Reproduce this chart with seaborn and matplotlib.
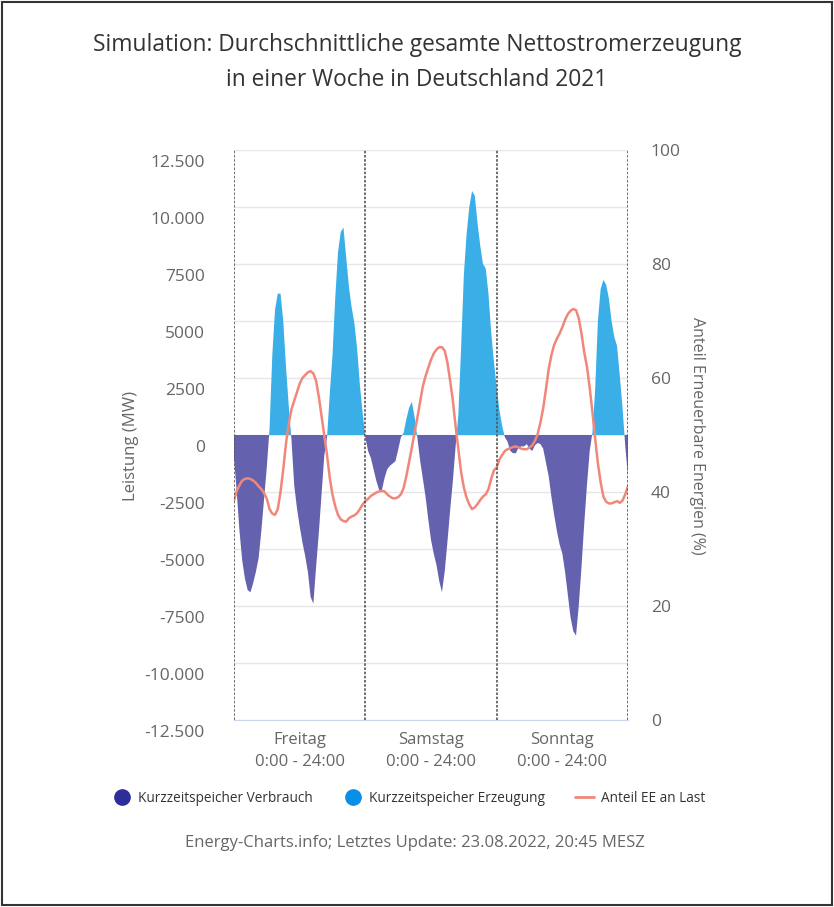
import numpy as np
import pandas as pd
import matplotlib.pyplot as plt
import matplotlib.transforms as mtransforms
from matplotlib.lines import Line2D
from matplotlib.patches import Rectangle
import seaborn as sns

# Kurzzeitspeicher (MW), half-hour steps, Freitag 0:00 .. Sonntag 24:00
speicher_fr = [-1000, -2500, -4200, -5500, -6300, -6800, -6900, -6500, -6000, -5400,
               -4200, -2800, -1400, 300, 3500, 5500, 6200, 6200, 5000, 3000,
               1300, -200, -2200, -3200, -4000, -4700, -5300, -6000, -7100, -7400,
               -5800, -4300, -2600, -900, -100, 1800, 3500, 6000, 8000, 8900,
               9100, 7800, 6500, 5600, 4900, 3800, 2200, 1000]
speicher_sa = [-100, -700, -1000, -1500, -2000, -2400, -2450, -1900, -1500, -1350,
               -1250, -1150, -650, -100, 100, 700, 1200, 1450, 800, -100,
               -1100, -1900, -2700, -3700, -4600, -5200, -5700, -6400, -6900, -6000,
               -4700, -3300, -2000, -500, 900, 3800, 7000, 8800, 10000, 10700,
               10500, 9300, 8300, 7500, 7300, 6200, 4500, 3200]
speicher_so = [2100, 1100, 400, -100, -300, -700, -800, -800, -550, -500,
               -500, -400, -600, -700, -450, -350, -400, -600, -1200, -1800,
               -2700, -3500, -4200, -4800, -5200, -6000, -7000, -8000, -8600, -8800,
               -7500, -5800, -3900, -2200, -700, 100, 2000, 5000, 6400, 6800,
               6600, 6000, 5000, 4300, 3900, 2600, 1200, -500, -1800]

# Anteil EE an Last (%)
ee_fr = [38.5, 40.2, 41.2, 42.0, 42.3, 42.4, 42.3, 42.0, 41.6, 41.0,
         40.5, 39.8, 38.8, 37.0, 36.2, 36.0, 37.0, 40.0, 44.0, 48.5,
         52.0, 54.5, 56.0, 57.5, 59.0, 60.0, 60.5, 61.0, 61.2, 60.8,
         59.5, 56.7, 53.3, 50.0, 46.5, 42.5, 39.5, 37.5, 36.0, 35.2,
         34.9, 34.8, 35.4, 35.7, 35.9, 36.3, 37.0, 37.8]
ee_sa = [38.4, 38.8, 39.3, 39.6, 39.9, 40.1, 40.2, 40.1, 39.6, 39.2,
         38.9, 38.9, 39.1, 39.6, 40.7, 42.8, 45.3, 47.8, 50.5, 53.0,
         55.8, 58.5, 60.3, 61.8, 63.2, 64.3, 65.0, 65.4, 65.4, 64.8,
         62.7, 59.5, 56.0, 51.5, 47.5, 43.5, 40.8, 39.0, 37.8, 37.0,
         37.3, 37.9, 38.6, 39.2, 39.6, 40.5, 42.3, 43.8]
ee_so = [44.3, 45.7, 46.5, 47.2, 47.5, 47.7, 47.9, 48.0, 47.8, 47.6,
         47.5, 47.5, 47.8, 48.2, 49.0, 50.2, 52.2, 54.7, 58.0, 61.5,
         64.0, 65.8, 66.9, 67.8, 68.9, 70.2, 71.2, 71.8, 72.1, 71.9,
         70.5, 67.8, 64.5, 62.0, 58.3, 54.0, 49.4, 45.0, 41.7, 39.2,
         38.3, 38.0, 38.0, 38.2, 38.4, 38.1, 38.5, 39.6, 41.0]

tage = ["Freitag\n0:00 - 24:00", "Samstag\n0:00 - 24:00", "Sonntag\n0:00 - 24:00"]
left_ticks = [12500, 10000, 7500, 5000, 2500, 0, -2500, -5000, -7500, -10000, -12500]
left_labels = ["12.500", "10.000", "7500", "5000", "2500", "0", "-2500", "-5000",
               "-7500", "-10.000", "-12.500"]
right_ticks = [0, 20, 40, 60, 80, 100]

speicher = np.array(speicher_fr + speicher_sa + speicher_so, dtype=float)
ee = np.array(ee_fr + ee_sa + ee_so, dtype=float)
df = pd.DataFrame({"stunde": np.arange(len(speicher)) * 0.5,
                   "speicher": speicher, "ee": ee})

sns.set_style("white")
plt.rcParams["font.family"] = ["Open Sans", "DejaVu Sans"]

c_verbrauch = "#6462ae"
c_erzeugung = "#3aaee6"
c_ee = "#f0877a"
c_text = "#666666"

fig = plt.figure(figsize=(8.34, 9.07), dpi=100)
ax = fig.add_axes([234 / 834, 1 - 720 / 907, 394 / 834, 570 / 907])

x = df["stunde"].values
ax.fill_between(x, df["speicher"], 0, where=df["speicher"] <= 0, interpolate=True,
                color=c_verbrauch, linewidth=0, zorder=2)
ax.fill_between(x, df["speicher"], 0, where=df["speicher"] >= 0, interpolate=True,
                color=c_erzeugung, linewidth=0, zorder=2)

ax.set_xlim(0, 72)
ax.set_ylim(-12500, 12500)
ax.set_yticks(left_ticks)
ax.set_yticklabels(left_labels)
for y in left_ticks:
    ax.axhline(y, color="#e6e6e6", linewidth=1, zorder=1)
ax.set_xticks([12, 36, 60])
ax.set_xticklabels(tage, linespacing=1.45)
ax.tick_params(axis="both", length=0, labelsize=12, labelcolor=c_text)
ax.tick_params(axis="y", labelsize=12.5, pad=21)
ax.tick_params(axis="x", pad=9)
offset = mtransforms.ScaledTranslation(0, -11 / 100, fig.dpi_scale_trans)
for lab in ax.get_yticklabels():
    lab.set_transform(lab.get_transform() + offset)
for s in ["top", "left", "right"]:
    ax.spines[s].set_visible(False)
ax.spines["bottom"].set_color("#ccd6eb")
ax.set_ylabel("")
ax.set_xlabel("")

ax2 = ax.twinx()
sns.lineplot(data=df, x="stunde", y="ee", ax=ax2, color=c_ee, linewidth=1.8, zorder=4)
ax2.set_ylim(0, 100)
ax2.set_yticks(right_ticks)
ax2.tick_params(axis="y", length=0, labelsize=12.5, labelcolor=c_text, pad=16.5)
for s in ["top", "left", "right", "bottom"]:
    ax2.spines[s].set_visible(False)
ax2.set_ylabel("")
ax2.set_xlabel("")
ax2.set_xlim(0, 72)
for d in [0, 24, 48, 72]:
    ax2.axvline(d, color="#555555", linewidth=1.2, linestyle=(0, (1.5, 1)), zorder=5)

fig.text(131 / 834, 1 - 446 / 907, "Leistung (MW)", rotation=90,
         ha="center", va="center", fontsize=12, color=c_text)
fig.text(697 / 834, 1 - 436 / 907, "Anteil Erneuerbare Energien (%)", rotation=270,
         ha="center", va="center", fontsize=11.5, color=c_text)

fig.text(0.5, 1 - 45 / 907, "Simulation: Durchschnittliche gesamte Nettostromerzeugung",
         ha="center", va="center", fontsize=16.4, color="#333333")
fig.text(0.5, 1 - 80 / 907, "in einer Woche in Deutschland 2021",
         ha="center", va="center", fontsize=16.4, color="#333333")

handles = [Line2D([], [], marker="o", linestyle="", markersize=11, color="#2e2e9a"),
           Line2D([], [], marker="o", linestyle="", markersize=11, color="#0a8fe8"),
           Line2D([], [], color=c_ee, linewidth=2)]
fig.legend(handles, ["Kurzzeitspeicher Verbrauch", "Kurzzeitspeicher Erzeugung",
                     "Anteil EE an Last"],
           loc="center", bbox_to_anchor=(0.49, 1 - 798 / 907), ncol=3, frameon=False,
           fontsize=9.8, handlelength=1.4, handletextpad=0.5, columnspacing=2.2,
           labelcolor="#333333")

fig.text(0.497, 1 - 843 / 907, "Energy-Charts.info; Letztes Update: 23.08.2022, 20:45 MESZ",
         ha="center", va="center", fontsize=12, color=c_text)

fig.patches.append(Rectangle((2 / 834, 2 / 907), 830 / 834, 903 / 907,
                             transform=fig.transFigure, fill=False,
                             edgecolor="#333333", linewidth=1.5))

fig.savefig("out.png", dpi=100)
